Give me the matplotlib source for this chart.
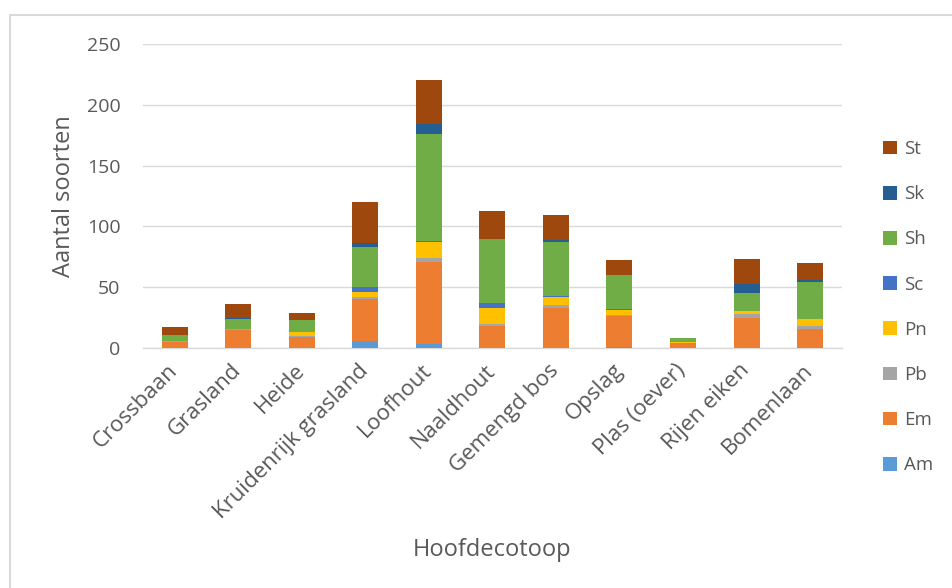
import matplotlib
matplotlib.use('Agg')
import matplotlib.pyplot as plt
from matplotlib.patches import Patch, Rectangle
import numpy as np

plt.rcParams['font.family'] = ['Open Sans', 'DejaVu Sans']

# Species counts per main ecotope, stacked by group
categories = ['Crossbaan', 'Grasland', 'Heide', 'Kruidenrijk grasland',
              'Loofhout', 'Naaldhout', 'Gemengd bos', 'Opslag',
              'Plas (oever)', 'Rijen eiken', 'Bomenlaan']

am = [0, 0, 0, 6, 3, 0, 0, 1, 0, 0, 0]
em = [5, 15, 9, 34, 68, 18, 33, 25, 4, 25, 16]
pb = [1, 1, 1, 2, 3, 2, 2, 1, 0, 3, 2]
pn = [0, 0, 3, 4, 13, 13, 7, 4, 1, 2, 6]
sc = [0, 0, 0, 4, 1, 4, 1, 1, 0, 0, 0]
sh = [5, 8, 10, 33, 88, 53, 44, 28, 3, 15, 30]
sk = [0, 1, 0, 3, 8, 0, 2, 0, 0, 8, 2]
st = [6, 11, 6, 34, 36, 23, 20, 12, 0, 20, 14]

series_names = ['Am', 'Em', 'Pb', 'Pn', 'Sc', 'Sh', 'Sk', 'St']
series_values = [am, em, pb, pn, sc, sh, sk, st]
series_colors = ['#5B9BD5', '#ED7D31', '#A5A5A5', '#FFC000',
                 '#4472C4', '#70AD47', '#255E91', '#9E480E']

text_color = '#595959'
grid_color = '#D9D9D9'

fig = plt.figure(figsize=(9.52, 5.88), dpi=100)
ax = fig.add_axes([0.150, 0.4082, 0.7343, 0.517])

# chart frame
fig.patches.append(Rectangle((10 / 952, -0.1), 1.2, (588 - 15) / 588 + 0.1,
                             transform=fig.transFigure, fill=False,
                             edgecolor=grid_color, linewidth=1.5))

x = np.arange(len(categories))
bottom = np.zeros(len(categories))
handles = []
for name, vals, col in zip(series_names, series_values, series_colors):
    vals = np.array(vals, dtype=float)
    ax.bar(x, vals, width=0.41, bottom=bottom, color=col, label=name,
           zorder=3, linewidth=0)
    bottom += vals
    handles.append(Patch(facecolor=col, label=name))

ax.set_xlim(-0.5, len(categories) - 0.5)
ax.set_ylim(0, 250)
ax.set_yticks([0, 50, 100, 150, 200, 250])
ax.yaxis.grid(True, color=grid_color, linewidth=1.0, zorder=0)
ax.set_axisbelow(True)

for side in ['top', 'right', 'left']:
    ax.spines[side].set_visible(False)
ax.spines['bottom'].set_color(grid_color)
ax.spines['bottom'].set_linewidth(1.0)

ax.tick_params(axis='y', length=0, pad=16, labelsize=14, labelcolor=text_color)
ax.tick_params(axis='x', length=0, pad=14, labelsize=16, labelcolor=text_color)
ax.set_xticks(x)
ax.set_xticklabels(categories, rotation=45, ha='right', va='center',
                   rotation_mode='anchor')

ax.set_ylabel('Aantal soorten', fontsize=17, color=text_color, labelpad=7.5)
ax.set_xlabel('Hoofdecotoop', fontsize=17, color=text_color)
ax.xaxis.set_label_coords(0.5, -0.625)

fig.legend(handles=handles[::-1], loc='upper left',
           bbox_to_anchor=(883 / 952, 1 - 140 / 588), frameon=False,
           fontsize=13.5, labelcolor=text_color, handlelength=0.75,
           handleheight=0.75, handletextpad=0.35, labelspacing=1.45,
           borderaxespad=0, borderpad=0)

fig.savefig('out.png', dpi=100)
